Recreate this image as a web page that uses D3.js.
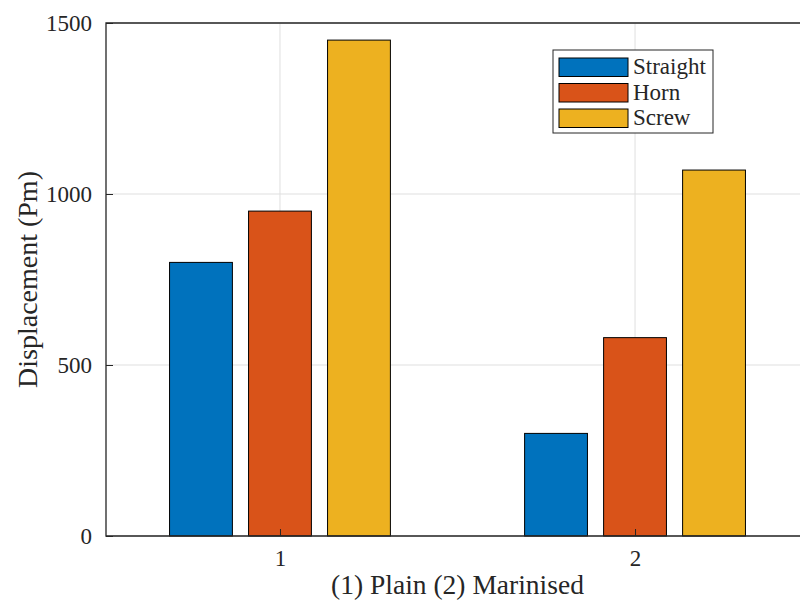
<!DOCTYPE html>
<html lang="en">
<head>
  <meta charset="utf-8">
  <title>Displacement bar chart</title>
  <script src="https://cdn.jsdelivr.net/npm/d3@7"></script>
  <style>
    body { margin: 0; background: #fff; }
    text { font-family: "Liberation Serif", "Times New Roman", serif; fill: #262626; }
  </style>
</head>
<body>
  <svg class="chart" width="800" height="603"></svg>
  <script>
    var width = 800, height = 603;
    var axLeft = 106, axRight = 809, axTop = 23, axBottom = 536;

    var groups = [1, 2];
    var series = ["Straight", "Horn", "Screw"];
    var straight = [800, 300];
    var horn = [950, 580];
    var screw = [1450, 1070];
    var colors = ["#0072BD", "#D95319", "#EDB120"];
    var yTicks = [0, 500, 1000, 1500];

    var values = [straight, horn, screw];

    var x = d3.scaleLinear().domain([0.51, 2.49]).range([axLeft, axRight]);
    var y = d3.scaleLinear().domain([0, 1500]).range([axBottom, axTop]);

    var offset = 0.2225, barW = 0.177;

    var svg = d3.select("svg.chart");

    // grid
    svg.append("g").selectAll("line")
      .data(groups).enter().append("line")
      .attr("x1", d => x(d)).attr("x2", d => x(d))
      .attr("y1", axTop).attr("y2", axBottom)
      .attr("stroke", "#dfdfdf").attr("stroke-width", 1);
    svg.append("g").selectAll("line")
      .data(yTicks).enter().append("line")
      .attr("x1", axLeft).attr("x2", axRight)
      .attr("y1", d => y(d)).attr("y2", d => y(d))
      .attr("stroke", "#dfdfdf").attr("stroke-width", 1);

    // bars
    series.forEach(function(s, i) {
      svg.append("g").selectAll("rect")
        .data(values[i]).enter().append("rect")
        .attr("x", (d, j) => x(groups[j] + (i - 1) * offset - barW / 2))
        .attr("width", x(barW) - x(0))
        .attr("y", d => y(d))
        .attr("height", d => y(0) - y(d))
        .attr("fill", colors[i])
        .attr("stroke", "#000").attr("stroke-width", 1);
    });

    // axes
    var xAxis = d3.axisBottom(x).tickValues(groups).tickSize(-7).tickPadding(14)
      .tickFormat(d3.format("d"));
    var yAxis = d3.axisLeft(y).tickValues(yTicks).tickSize(-7).tickPadding(14)
      .tickFormat(d3.format("d"));

    var gx = svg.append("g").attr("transform", "translate(0," + axBottom + ")").call(xAxis);
    var gy = svg.append("g").attr("transform", "translate(" + axLeft + ",0)").call(yAxis);
    [gx, gy].forEach(function(g) {
      g.select(".domain").remove();
      g.selectAll("line").attr("stroke", "#262626");
      g.selectAll("text").style("font-size", "23px")
        .style("font-family", "'Liberation Serif', serif").attr("fill", "#262626");
    });

    // box
    svg.append("path")
      .attr("d", "M" + axLeft + "," + axBottom + "V" + axTop + "H" + axRight + "V" + axBottom + "Z")
      .attr("fill", "none").attr("stroke", "#262626").attr("stroke-width", 1.3);

    // labels
    svg.append("text")
      .attr("x", (axLeft + axRight) / 2).attr("y", 594)
      .attr("text-anchor", "middle").style("font-size", "27.5px")
      .text("(1) Plain (2) Marinised");
    svg.append("text")
      .attr("transform", "translate(37," + (axTop + axBottom) / 2 + ") rotate(-90)")
      .attr("text-anchor", "middle").style("font-size", "28px")
      .text("Displacement (Pm)");

    // legend
    var lg = svg.append("g").attr("transform", "translate(553,50)");
    lg.append("rect").attr("width", 160).attr("height", 83)
      .attr("fill", "#fff").attr("stroke", "#262626").attr("stroke-width", 1);
    var item = lg.selectAll("g.item").data(series).enter().append("g")
      .attr("transform", (d, i) => "translate(6," + (8 + i * 25.5) + ")");
    item.append("rect").attr("width", 69).attr("height", 18.5)
      .attr("fill", (d, i) => colors[i]).attr("stroke", "#000").attr("stroke-width", 1);
    item.append("text").attr("x", 74).attr("y", 16)
      .style("font-size", "23px").text(d => d);
  </script>
</body>
</html>
